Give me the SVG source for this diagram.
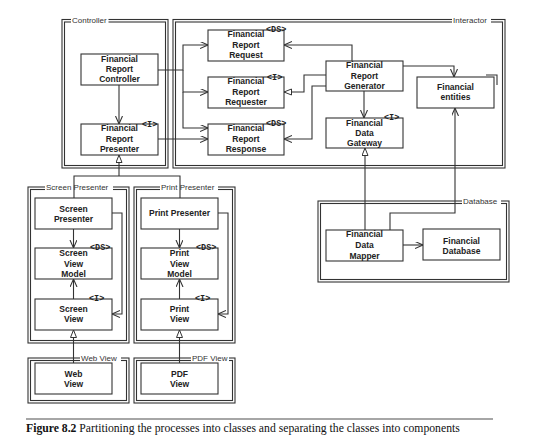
<svg xmlns="http://www.w3.org/2000/svg" width="540" height="444" viewBox="0 0 540 444">
<defs>
<marker id="arr" markerUnits="userSpaceOnUse" markerWidth="10" markerHeight="10" refX="8" refY="3.5" orient="auto">
<path d="M0,0 L8,3.5 L0,7" fill="none" stroke="#333" stroke-width="1.1"/>
</marker>
<marker id="tri" markerUnits="userSpaceOnUse" markerWidth="10" markerHeight="10" refX="8" refY="3.5" orient="auto">
<path d="M0.5,0.5 L8,3.5 L0.5,6.5 Z" fill="#fff" stroke="#333" stroke-width="1"/>
</marker>
</defs>
<style>
.bg{fill:#fff}
.comp rect.bd{fill:none;stroke:#333;stroke-width:1.1}
.comp rect.lblbg{fill:#fff;stroke:none}
.clabel{font-family:"Liberation Sans",Arial,sans-serif;font-size:8px;fill:#333}
.node rect{fill:#fff;stroke:#333;stroke-width:1.1}
.node text{font-family:"Liberation Sans",Arial,sans-serif;font-size:8.5px;font-weight:bold;fill:#222;text-anchor:middle}
.node text.st{font-family:"Liberation Mono","DejaVu Sans Mono",monospace;font-size:8.5px;font-weight:bold;text-anchor:start}
.conn path{fill:none;stroke:#333;stroke-width:1.1}
.cap{font-family:"Liberation Serif","Times New Roman",serif;font-size:11.7px;fill:#111}
</style>
<rect class="bg" x="0" y="0" width="540" height="444"/>

<g id="components">
<g id="comp-controller" class="comp">
<rect class="bd" x="62" y="19.5" width="106" height="148.5"/><rect class="bd" x="64.5" y="22" width="101" height="143.5"/>
<rect class="lblbg" x="71" y="16" width="37.5" height="8"/>
<text class="clabel" x="72" y="23">Controller</text>
</g>
<g id="comp-interactor" class="comp">
<rect class="bd" x="173" y="19.5" width="332" height="148.5"/><rect class="bd" x="175.5" y="22" width="327" height="143.5"/>
<rect class="lblbg" x="452" y="16" width="39" height="8"/>
<text class="clabel" x="453" y="23">Interactor</text>
</g>
<g id="comp-screen-presenter" class="comp">
<rect class="bd" x="28" y="187" width="101" height="156"/><rect class="bd" x="30.5" y="189.5" width="96" height="151"/>
<rect class="lblbg" x="45" y="183" width="68" height="8"/>
<text class="clabel" x="46" y="190">Screen Presenter</text>
</g>
<g id="comp-print-presenter" class="comp">
<rect class="bd" x="134" y="187" width="101" height="156"/><rect class="bd" x="136.5" y="189.5" width="96" height="151"/>
<rect class="lblbg" x="160" y="183" width="58" height="8"/>
<text class="clabel" x="161" y="190">Print Presenter</text>
</g>
<g id="comp-web-view" class="comp">
<rect class="bd" x="28" y="358" width="101" height="45"/><rect class="bd" x="30.5" y="360.5" width="96" height="40"/>
<rect class="lblbg" x="80" y="354" width="41" height="8"/>
<text class="clabel" x="81" y="361">Web View</text>
</g>
<g id="comp-pdf-view" class="comp">
<rect class="bd" x="134" y="358" width="101" height="45"/><rect class="bd" x="136.5" y="360.5" width="96" height="40"/>
<rect class="lblbg" x="191" y="354" width="38" height="8"/>
<text class="clabel" x="192" y="361">PDF View</text>
</g>
<g id="comp-database" class="comp">
<rect class="bd" x="318" y="201" width="191" height="81"/><rect class="bd" x="320.5" y="203.5" width="186" height="76"/>
<rect class="lblbg" x="462" y="197" width="39" height="8"/>
<text class="clabel" x="463" y="204">Database</text>
</g>
</g>

<g id="connectors" class="conn">
<path d="M158,70 H183 V45 H208" marker-end="url(#arr)"/>
<path d="M183,70 V92 H208" marker-end="url(#arr)"/>
<path d="M183,92 V128 H208" marker-end="url(#arr)"/>
<path d="M158,139 H208" marker-end="url(#arr)"/>
<path d="M119,85 V124" marker-end="url(#arr)"/>
<path d="M352,61 V45 H284" marker-end="url(#arr)"/>
<path d="M326,75 H304 V92 H284" marker-end="url(#tri)"/>
<path d="M326,86 H312 V139 H284" marker-end="url(#arr)"/>
<path d="M403,66 H454 V77" marker-end="url(#arr)"/>
<path d="M364,91 V118" marker-end="url(#arr)"/>
<path d="M365,230 V148" marker-end="url(#tri)"/>
<path d="M390,230 V213 H455 V108" marker-end="url(#arr)"/>
<path d="M403,245 H423" marker-end="url(#arr)"/>
<path d="M74,198 V176 H180 V198"/>
<path d="M119,176 V155" marker-end="url(#tri)"/>
<path d="M73.5,229 V248" marker-end="url(#arr)"/>
<path d="M73.5,299 V279" marker-end="url(#arr)"/>
<path d="M112,213 H122 V314 H112" marker-end="url(#arr)"/>
<path d="M179.5,229 V248" marker-end="url(#arr)"/>
<path d="M179.5,299 V279" marker-end="url(#arr)"/>
<path d="M218,213 H228 V314 H218" marker-end="url(#arr)"/>
<path d="M73.5,363 V330" marker-end="url(#tri)"/>
<path d="M179.5,363 V330" marker-end="url(#tri)"/>
<path d="M486,75 H497 V85"/>
</g>

<g id="n-frc" class="node"><rect x="81" y="54" width="77" height="31"/>
<text x="119.5" y="62">Financial</text><text x="119.5" y="72">Report</text><text x="119.5" y="82">Controller</text></g>
<g id="n-frp" class="node"><rect x="81" y="124" width="77" height="31"/>
<text x="119.5" y="131">Financial</text><text x="119.5" y="142">Report</text><text x="119.5" y="152">Presenter</text>
<text class="st" x="142" y="127">&lt;I&gt;</text></g>
<g id="n-request" class="node"><rect x="208" y="30" width="76" height="31"/>
<text x="246" y="37">Financial</text><text x="246" y="48">Report</text><text x="246" y="58">Request</text>
<text class="st" x="266" y="32">&lt;DS&gt;</text></g>
<g id="n-requester" class="node"><rect x="208" y="77" width="76" height="31"/>
<text x="246" y="84">Financial</text><text x="246" y="95">Report</text><text x="246" y="105">Requester</text>
<text class="st" x="267" y="80">&lt;I&gt;</text></g>
<g id="n-response" class="node"><rect x="208" y="124" width="76" height="31"/>
<text x="246" y="131">Financial</text><text x="246" y="142">Report</text><text x="246" y="152">Response</text>
<text class="st" x="266" y="126">&lt;DS&gt;</text></g>
<g id="n-generator" class="node"><rect x="326" y="61" width="77" height="30"/>
<text x="364.5" y="68">Financial</text><text x="364.5" y="79">Report</text><text x="364.5" y="89">Generator</text></g>
<g id="n-gateway" class="node"><rect x="326" y="118" width="77" height="30"/>
<text x="364.5" y="126">Financial</text><text x="364.5" y="136">Data</text><text x="364.5" y="146">Gateway</text>
<text class="st" x="384" y="120">&lt;I&gt;</text></g>
<g id="n-entities" class="node"><rect x="417" y="77" width="77" height="31"/>
<text x="455.5" y="90">Financial</text><text x="455.5" y="100">entities</text></g>
<g id="n-mapper" class="node"><rect x="326" y="230" width="77" height="31"/>
<text x="364.5" y="237">Financial</text><text x="364.5" y="248">Data</text><text x="364.5" y="259">Mapper</text></g>
<g id="n-database" class="node"><rect x="423" y="229" width="77" height="31"/>
<text x="461.5" y="244">Financial</text><text x="461.5" y="254">Database</text></g>
<g id="n-screen-presenter" class="node"><rect x="35" y="198" width="77" height="31"/>
<text x="73.5" y="212">Screen</text><text x="73.5" y="222">Presenter</text></g>
<g id="n-screen-view-model" class="node"><rect x="35" y="248" width="77" height="31"/>
<text x="73.5" y="256">Screen</text><text x="73.5" y="267">View</text><text x="73.5" y="277">Model</text>
<text class="st" x="90" y="250">&lt;DS&gt;</text></g>
<g id="n-screen-view" class="node"><rect x="35" y="299" width="77" height="31"/>
<text x="73.5" y="312">Screen</text><text x="73.5" y="322">View</text>
<text class="st" x="89" y="301">&lt;I&gt;</text></g>
<g id="n-print-presenter" class="node"><rect x="141" y="198" width="77" height="31"/>
<text x="179.5" y="216">Print Presenter</text></g>
<g id="n-print-view-model" class="node"><rect x="141" y="248" width="77" height="31"/>
<text x="179.5" y="256">Print</text><text x="179.5" y="267">View</text><text x="179.5" y="277">Model</text>
<text class="st" x="196" y="250">&lt;DS&gt;</text></g>
<g id="n-print-view" class="node"><rect x="141" y="299" width="77" height="31"/>
<text x="179.5" y="312">Print</text><text x="179.5" y="322">View</text>
<text class="st" x="195" y="301">&lt;I&gt;</text></g>
<g id="n-web-view" class="node"><rect x="35" y="363" width="77" height="31"/>
<text x="73.5" y="377">Web</text><text x="73.5" y="387">View</text></g>
<g id="n-pdf-view" class="node"><rect x="141" y="363" width="77" height="31"/>
<text x="179.5" y="377">PDF</text><text x="179.5" y="387">View</text></g>

<g id="caption">
<line x1="26" y1="419" x2="493" y2="419" stroke="#888" stroke-width="1.5"/>
<text class="cap" x="26" y="432"><tspan font-weight="bold">Figure 8.2</tspan> Partitioning the processes into classes and separating the classes into components</text>
</g>
</svg>
